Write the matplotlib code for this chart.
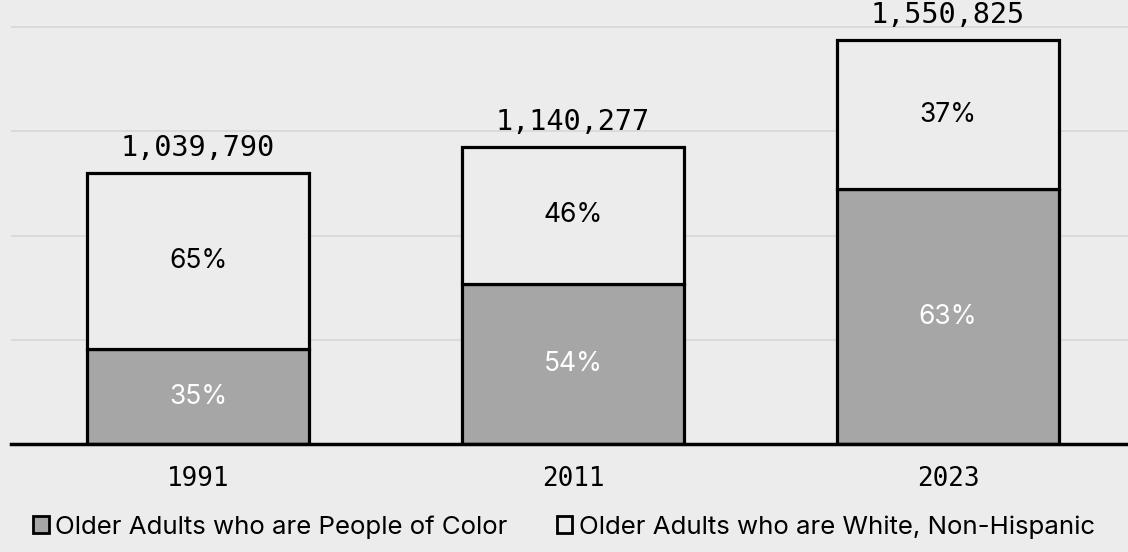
import matplotlib.pyplot as plt
from matplotlib.patches import Patch
from matplotlib.ticker import MultipleLocator

years = ['1991', '2011', '2023']
totals = [1039790, 1140277, 1550825]
poc_pct = [35, 54, 63]
white_pct = [65, 46, 37]

bg = '#ececec'
gray = '#a6a6a6'

poc = [t * p / 100 for t, p in zip(totals, poc_pct)]
white = [t * p / 100 for t, p in zip(totals, white_pct)]

fig = plt.figure(figsize=(11.28, 5.52), dpi=100, facecolor=bg)
ax = fig.add_axes([11 / 1128, 108 / 552, 1 - 11 / 1128, 444 / 552])
ax.set_facecolor(bg)

x = range(len(years))
w = 0.592
ax.bar(x, poc, w, color=gray, edgecolor='black', linewidth=2.3, zorder=3)
ax.bar(x, white, w, bottom=poc, color=bg, edgecolor='black', linewidth=2.3, zorder=3)

for i in x:
    ax.text(i, poc[i] / 2, f'{poc_pct[i]}%', ha='center', va='center',
            color='white', fontsize=19, family='Inter', zorder=4)
    ax.text(i, poc[i] + white[i] / 2, f'{white_pct[i]}%', ha='center', va='center',
            color='black', fontsize=19, family='Inter', zorder=4)
    ax.annotate(f'{totals[i]:,}', (i, totals[i]), xytext=(0, 8), textcoords='offset points',
                ha='center', va='bottom', fontsize=20.5, family='DejaVu Sans Mono', zorder=4)

ax.set_xlim(-0.499, 2.48)
ax.set_ylim(0, 1.6e6 * 444 / 417)
ax.yaxis.set_major_locator(MultipleLocator(400000))
ax.grid(axis='y', color='#d9d9d9', linewidth=1.3, zorder=0)
ax.set_yticklabels([])
ax.tick_params(axis='y', length=0)
ax.set_xticks(list(x))
ax.set_xticklabels(years, fontsize=18.7, family='DejaVu Sans Mono')
ax.tick_params(axis='x', length=0, pad=16)
for s in ['top', 'right', 'left']:
    ax.spines[s].set_visible(False)
ax.spines['bottom'].set_linewidth(2.5)
ax.spines['bottom'].set_zorder(5)

handles = [Patch(facecolor=gray, edgecolor='black', linewidth=2),
           Patch(facecolor=bg, edgecolor='black', linewidth=2)]
labels = ['Older Adults who are People of Color', 'Older Adults who are White, Non-Hispanic']
fig.legend(handles, labels, loc='center', bbox_to_anchor=(0.5, 25 / 552), ncol=2,
           frameon=False, handlelength=0.6, handleheight=0.6, handletextpad=0.25,
           columnspacing=1.9, prop={'family': 'Inter', 'size': 18.6})

fig.savefig('out.png', dpi=100, facecolor=bg)
